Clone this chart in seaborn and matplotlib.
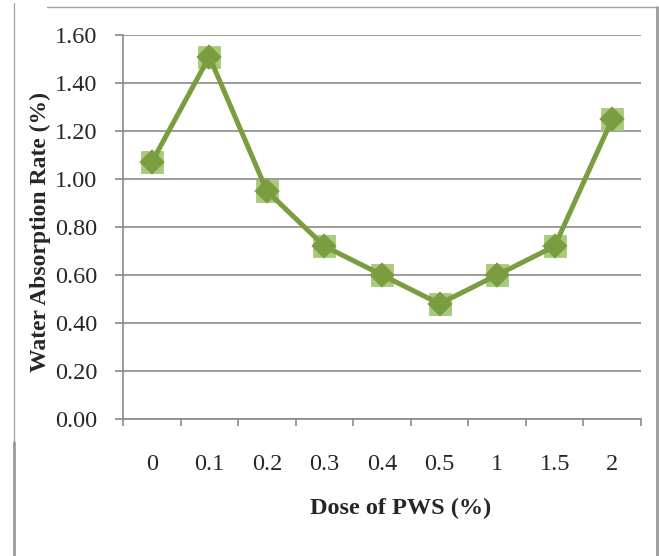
import numpy as np
import pandas as pd
import seaborn as sns
import matplotlib.pyplot as plt
from matplotlib.lines import Line2D

# data
doses = ['0', '0.1', '0.2', '0.3', '0.4', '0.5', '1', '1.5', '2']
absorption = [1.07, 1.51, 0.95, 0.72, 0.60, 0.48, 0.60, 0.72, 1.25]
y_ticks = [0.0, 0.2, 0.4, 0.6, 0.8, 1.0, 1.2, 1.4, 1.6]

df = pd.DataFrame({'Dose': doses, 'Rate': absorption})

sns.set_style('white')
plt.rcParams['font.family'] = ['Liberation Serif', 'DejaVu Serif']

W, H = 659, 556
fig = plt.figure(figsize=(W / 100, H / 100), dpi=100)
ax = fig.add_axes([123 / W, 1 - 419 / H, (641 - 123) / W, (419 - 35) / H])

line_green = '#7a9e3f'
square_green = '#aac87e'
grey = '#8a8a8a'

# light squares underneath, then line with darker diamonds
sns.pointplot(data=df, x='Dose', y='Rate', order=doses, markers='s',
              linestyles='none', color=square_green, markersize=14.5,
              ax=ax, zorder=3)
sns.pointplot(data=df, x='Dose', y='Rate', order=doses, markers='D',
              linestyles='-', color=line_green, markersize=10,
              linewidth=3.6, ax=ax, zorder=4)

ax.set_xlim(-0.5, len(doses) - 0.5)
ax.set_ylim(0, 1.6)
ax.set_yticks(y_ticks)
ax.set_yticklabels([f'{v:.2f}' for v in y_ticks])

ax.set_xticks(np.arange(-0.5, len(doses), 1), minor=True)
ax.tick_params(axis='x', which='major', length=0, pad=25, labelsize=17.5)
ax.tick_params(axis='x', which='minor', length=5, width=1.2, color=grey,
               direction='out', bottom=True)
ax.tick_params(axis='y', length=5.5, width=1.2, color=grey, direction='out',
               left=True, pad=13, labelsize=17.5)

ax.yaxis.grid(True, color=grey, linewidth=1.2)
ax.xaxis.grid(False)
ax.set_axisbelow(True)
for side in ['top', 'right']:
    ax.spines[side].set_visible(False)
for side in ['left', 'bottom']:
    ax.spines[side].set_color(grey)
    ax.spines[side].set_linewidth(1.2)

ax.set_xlabel('Dose of PWS (%)', fontsize=17.5, fontweight='bold', va='center')
ax.xaxis.set_label_coords((401 - 123) / 518, (419 - 508) / 384)
ax.set_ylabel('Water Absorption Rate (%)', fontsize=17, fontweight='bold',
              va='center')
ax.yaxis.set_label_coords((40 - 123) / 518, (419 - 232) / 384)

# outer frame lines
def fx(x):
    return x / W

def fy(y):
    return 1 - y / H

fig.add_artist(Line2D([fx(47), fx(657)], [fy(7), fy(7)], color='#a0a0a0', lw=1.0))
fig.add_artist(Line2D([fx(13.5), fx(13.5)], [fy(3), fy(442)], color='#a0a0a0', lw=0.9))
fig.add_artist(Line2D([fx(14), fx(14)], [fy(442), fy(556)], color='#9a9a9a', lw=2.0))
fig.add_artist(Line2D([fx(657), fx(657)], [fy(7), fy(556)], color='#9a9a9a', lw=2.0))

fig.savefig('out.png', dpi=100)
